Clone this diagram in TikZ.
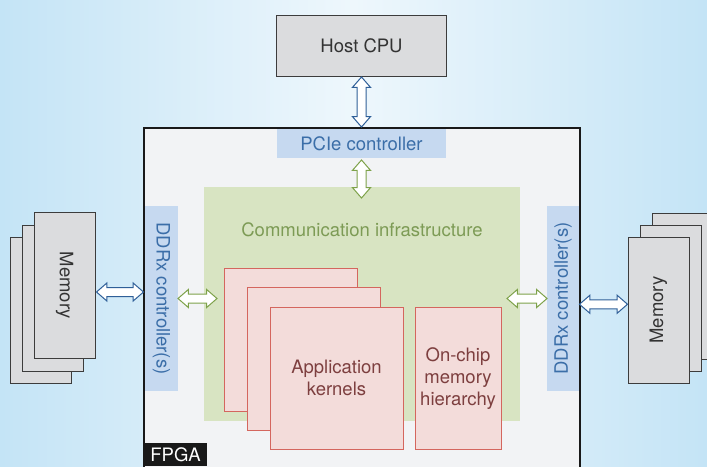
\documentclass[tikz,border=0pt]{standalone}
\usepackage{fontspec}
\setmainfont{TeX Gyre Heros}
\usetikzlibrary{shapes.arrows,calc}
\definecolor{bgedge}{HTML}{C4E4F6}
\definecolor{bgmid}{HTML}{EEF7FC}
\definecolor{grayfill}{HTML}{DBDCDE}
\definecolor{grayline}{HTML}{3C3C3C}
\definecolor{fpgafill}{HTML}{F2F3F5}
\definecolor{ctrlfill}{HTML}{C6D9F0}
\definecolor{ctrltext}{HTML}{3B6EA8}
\definecolor{commfill}{HTML}{D8E4C2}
\definecolor{commtext}{HTML}{7D9B55}
\definecolor{kfill}{HTML}{F3DCDA}
\definecolor{kline}{HTML}{D4665E}
\definecolor{ktext}{HTML}{7D3F3F}
\definecolor{barrow}{HTML}{2F5F98}
\definecolor{garrow}{HTML}{7EA24A}
\definecolor{dtext}{HTML}{333333}
\begin{document}
\begin{tikzpicture}[x=1pt,y=-1pt,
  font=\fontsize{18.5}{22}\selectfont,
  plainbox/.style={rectangle, inner sep=0pt, outer sep=0pt, align=center},
  graybox/.style={plainbox, draw=grayline, fill=grayfill, line width=1pt, text=dtext},
  ctrlbox/.style={plainbox, fill=ctrlfill, text=ctrltext},
  kbox/.style={plainbox, draw=kline, fill=kfill, line width=1pt, text=ktext},
  memrot/.style={minimum width=146pt, minimum height=61pt},
  memup/.style={minimum width=61pt, minimum height=146pt},
  kw/.style={minimum width=133pt, minimum height=143pt},
  dblarrow/.style={double arrow, draw=#1, fill=white, line width=1pt,
    inner xsep=0pt, inner ysep=4pt, outer sep=0pt,
    double arrow head extend=4.5pt, double arrow tip angle=82}
]
\useasboundingbox (0,0) rectangle (707,466);
\clip (0,0) rectangle (707,466);
\shade[left color=bgedge, right color=bgedge, middle color=bgmid] (0,0) rectangle (707,466);

% Host CPU
\node[graybox, minimum width=170pt, minimum height=61pt] (cpu) at (361.5,45.5) {Host CPU};

% FPGA
\node[plainbox, draw=black!90, fill=fpgafill, line width=1.3pt,
      minimum width=436pt, minimum height=346pt] (fpga) at (362,301) {};
\node[plainbox, fill=black!90, text=white, minimum width=63pt, minimum height=23pt,
      anchor=south west] (fpgalabel) at (144,466) {FPGA};

% PCIe controller
\node[ctrlbox, minimum width=169pt, minimum height=29pt] (pcie) at (361.5,143.5) {PCIe controller};

% Communication infrastructure
\node[plainbox, fill=commfill, minimum width=316pt, minimum height=234pt] (comm) at (362,304) {};
\node[text=commtext] (commlabel) at (362,230) {Communication infrastructure};

% DDRx controllers
\node[ctrlbox, rotate=-90, minimum width=185pt, minimum height=33pt] (ddrl) at (161.5,298.5) {DDRx controller(s)};
\node[ctrlbox, rotate=90, minimum width=185pt, minimum height=32pt] (ddrr) at (563,298.5) {DDRx controller(s)};

% Application kernels
\node[kbox, kw] (k3) at (290.5,339.5) {};
\node[kbox, kw] (k2) at (313.5,358.5) {};
\node[kbox, minimum width=133pt, minimum height=142pt] (k1) at (336.5,378) {Application\\kernels};
\node[kbox, minimum width=86pt, minimum height=142pt] (onchip) at (458,378.5) {On-chip\\memory\\hierarchy};

% Memory left
\node[graybox, memup] (ml3) at (40.5,310) {};
\node[graybox, memup] (ml2) at (52.5,298) {};
\node[graybox, memrot, rotate=-90] (ml1) at (64.5,285.5) {Memory};
% Memory right
\node[graybox, memup] (mr3) at (682.5,286) {};
\node[graybox, memup] (mr2) at (670.5,298) {};
\node[graybox, memrot, rotate=90] (mr1) at (658.5,310) {Memory};

% Arrows
\node[dblarrow=barrow, rotate=90, minimum height=50pt] (a1) at ($(cpu.south)!0.5!(cpu.south |- fpga.north)$) {};
\node[dblarrow=garrow, rotate=90, minimum height=38pt] (a2) at ($(pcie.south)+(0,21)$) {};
\node[dblarrow=barrow, minimum height=47pt] (a3) at ($(ml1.north)!0.5!(ddrl.south)$) {};
\node[dblarrow=garrow, minimum height=39pt] (a4) at ($(ddrl.north)+(19.5,0)$) {};
\node[dblarrow=garrow, minimum height=40pt] (a5) at ($(ddrr.north)+(-20,0)$) {};
\node[dblarrow=barrow, minimum height=48pt] (a6) at ($(ddrr.south)!0.5!(mr1.north)$) {};
\end{tikzpicture}
\end{document}
